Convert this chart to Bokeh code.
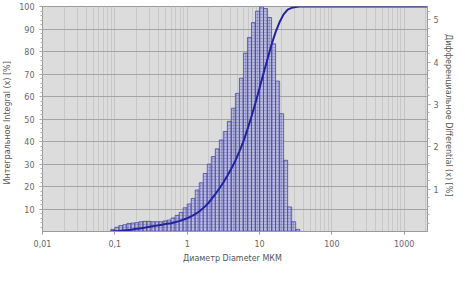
from bokeh.plotting import figure
from bokeh.models import Range1d, LinearAxis, FixedTicker
from bokeh.embed import file_html
from bokeh.resources import INLINE

# ---- data -------------------------------------------------------------
# bin edges (µm)
edges = [0.0880, 0.1, 0.1136, 0.1292, 0.1468, 0.1668, 0.1896, 0.2154, 0.2448,
         0.2783, 0.3162, 0.3594, 0.4084, 0.4642, 0.5275, 0.5995, 0.6813, 0.7743,
         0.8799, 1.0, 1.136, 1.292, 1.468, 1.668, 1.896, 2.154, 2.448, 2.783,
         3.162, 3.594, 4.084, 4.642, 5.275, 5.995, 6.813, 7.743, 8.799, 10.0,
         11.36, 12.92, 14.68, 16.68, 18.96, 21.54, 24.48, 27.83, 31.62, 35.94]
# differential q (%) per bin
diff_vals = [0.05, 0.10, 0.14, 0.16, 0.19, 0.20, 0.21, 0.23, 0.24, 0.24, 0.23,
             0.23, 0.23, 0.25, 0.27, 0.32, 0.38, 0.45, 0.56, 0.65, 0.78, 0.98,
             1.15, 1.37, 1.59, 1.77, 1.95, 2.16, 2.36, 2.60, 2.91, 3.26, 3.62,
             4.21, 4.58, 4.93, 5.20, 5.30, 5.26, 5.05, 4.43, 3.55, 2.78, 1.68,
             0.58, 0.23, 0.05]
# integral Q (%) at diameters
cum_d = edges + [2100]
cum_vals = [0, 0.1, 0.2, 0.4, 0.6, 0.8, 1.1, 1.3, 1.6, 1.9, 2.2, 2.5, 2.8, 3.1,
            3.4, 3.7, 4.1, 4.6, 5.2, 5.9, 6.7, 7.7, 8.9, 10.4, 12.1, 14.3, 16.6,
            19.1, 21.8, 24.8, 28.0, 31.5, 35.6, 40.1, 45.4, 51.1, 57.2, 63.7,
            70.3, 76.8, 83.1, 88.6, 93.1, 96.5, 98.6, 99.4, 99.8, 100, 100]

x_ticks = [0.01, 0.1, 1, 10, 100, 1000]
x_tick_labels = ["0,01", "0,1", "1", "10", "100", "1000"]
left_ticks = [10, 20, 30, 40, 50, 60, 70, 80, 90, 100]
right_ticks = [1, 2, 3, 4, 5]

# ---- figure -----------------------------------------------------------
FONT = "DejaVu Sans"
p = figure(width=455, height=265, x_axis_type="log",
           x_range=Range1d(0.01, 2100), y_range=Range1d(0, 100),
           output_backend="svg", toolbar_location=None,
           min_border_left=30, min_border_right=0, min_border_top=6,
           min_border_bottom=0)
p.background_fill_color = "#dcdcdc"
p.border_fill_color = "white"
p.outline_line_color = "#9a9a9a"

minor_x = [m * 10.0 ** e for e in range(-2, 4) for m in range(2, 10)]
p.xaxis.ticker = FixedTicker(ticks=x_ticks, minor_ticks=minor_x)
p.xaxis.major_label_overrides = dict(zip(x_ticks, x_tick_labels))
p.xaxis.major_label_text_font = FONT
p.xaxis.major_label_text_font_size = "8px"
p.xaxis.major_label_text_color = "#666666"
p.xaxis.axis_line_color = "#9a9a9a"
p.xaxis.major_tick_line_color = "#9a9a9a"
p.xaxis.minor_tick_line_color = None
p.xaxis.major_tick_out = 3
p.xaxis.major_tick_in = 0
p.xaxis.major_label_standoff = 4
p.xaxis.axis_label = "Диаметр Diameter   МКМ"
p.xaxis.axis_label_text_font = FONT
p.xaxis.axis_label_text_font_size = "8px"
p.xaxis.axis_label_text_font_style = "normal"
p.xaxis.axis_label_text_color = "#555555"
p.xaxis.axis_label_standoff = 4

p.yaxis.ticker = FixedTicker(ticks=left_ticks,
                             minor_ticks=[v for v in range(2, 100, 2)])
p.yaxis.major_label_text_font = FONT
p.yaxis.major_label_text_font_size = "8px"
p.yaxis.major_label_text_color = "#666666"
p.yaxis.axis_line_color = "#9a9a9a"
p.yaxis.major_tick_line_color = "#9a9a9a"
p.yaxis.minor_tick_line_color = "#b0b0b0"
p.yaxis.major_tick_out = 3
p.yaxis.major_tick_in = 0
p.yaxis.minor_tick_out = 2
p.yaxis.minor_tick_in = 0
p.yaxis.axis_label = "Интегральное Integral    (x) [%]"
p.yaxis.axis_label_text_font = FONT
p.yaxis.axis_label_text_font_size = "8px"
p.yaxis.axis_label_text_font_style = "normal"
p.yaxis.axis_label_text_color = "#555555"
p.yaxis.axis_label_standoff = 4

p.xgrid.grid_line_color = "#c4c4c4"
p.xgrid.minor_grid_line_color = "#c8c8c8"
p.ygrid.grid_line_color = "#a4a4a4"
p.ygrid.grid_line_width = 1.2
p.ygrid.ticker = FixedTicker(ticks=left_ticks[:-1])

p.extra_y_ranges = {"diff": Range1d(0, 5.31)}
ax_r = LinearAxis(y_range_name="diff",
                  ticker=FixedTicker(ticks=right_ticks,
                                     minor_ticks=[i * 0.2 for i in range(1, 27)]),
                  axis_label="Дифференциальное Differential    (x) [%]")
ax_r.major_label_text_font = FONT
ax_r.major_label_text_font_size = "8px"
ax_r.major_label_text_color = "#666666"
ax_r.axis_line_color = "#9a9a9a"
ax_r.major_tick_line_color = "#9a9a9a"
ax_r.minor_tick_line_color = "#b0b0b0"
ax_r.major_tick_out = 3
ax_r.major_tick_in = 0
ax_r.minor_tick_out = 2
ax_r.minor_tick_in = 0
ax_r.major_label_standoff = 3
ax_r.axis_label_text_font = FONT
ax_r.axis_label_text_font_size = "8px"
ax_r.axis_label_text_font_style = "normal"
ax_r.axis_label_text_color = "#555555"
ax_r.axis_label_standoff = 2
p.add_layout(ax_r, "right")

# bars
p.quad(left=edges[:-1], right=edges[1:], bottom=0, top=diff_vals,
       y_range_name="diff", fill_color="#b0b0e2", fill_alpha=0.75,
       line_color="#3c3c9c", line_width=0.7,
       hatch_pattern="cross", hatch_color="#5858b0", hatch_alpha=0.55,
       hatch_scale=3, hatch_weight=0.6)

# cumulative line
p.line(cum_d, cum_vals, line_color="#2222a0", line_width=2)

open("out.html", "w").write(file_html(p, INLINE))
